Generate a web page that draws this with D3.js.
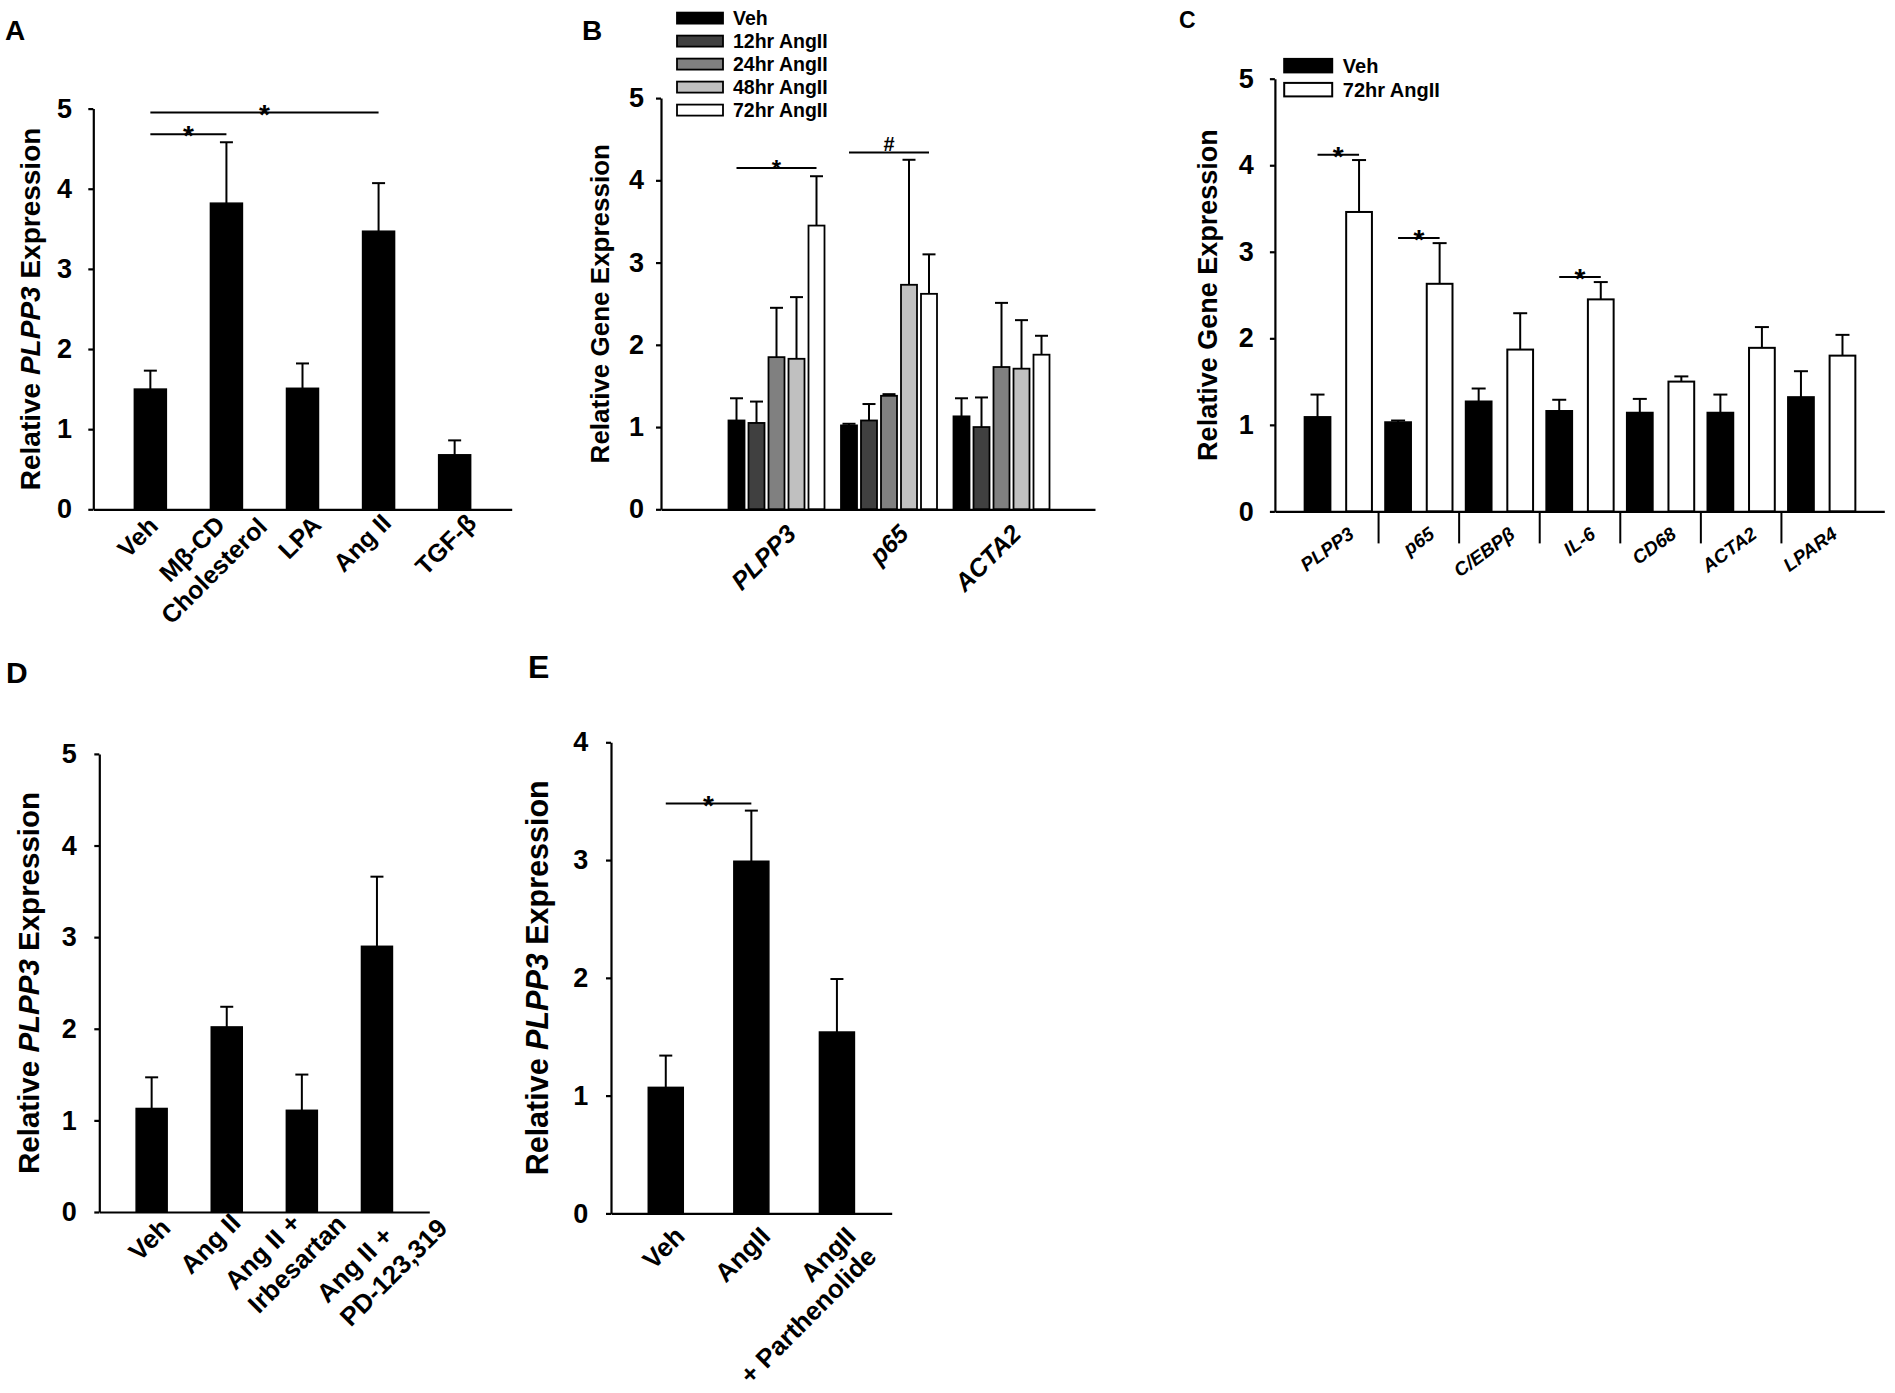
<!DOCTYPE html>
<html>
<head>
<meta charset="utf-8">
<script src="https://cdn.jsdelivr.net/npm/d3@7"></script>
<style>
  body { margin: 0; background: #fff; }
  svg text { font-family: "Liberation Sans", Arial, Helvetica, sans-serif; font-weight: bold; fill: #000; }
</style>
</head>
<body>
<svg id="fig" width="1895" height="1393"></svg>
<script>
// ---------- data ----------
// A
var catsA = ["Veh", "Mβ-CD\nCholesterol", "LPA", "Ang II", "TGF-β"];
var meanA = [1.50, 3.82, 1.51, 3.47, 0.68];
var semA  = [0.23, 0.76, 0.31, 0.60, 0.18];
var sigA  = [{a: 0, b: 1, y: 4.68, t: "*"}, {a: 0, b: 3, y: 4.95, t: "*"}];

// B
var genesB  = ["PLPP3", "p65", "ACTA2"];
var seriesB = ["Veh", "12hr AngII", "24hr AngII", "48hr AngII", "72hr AngII"];
var colorsB = ["#000000", "#404040", "#808080", "#c0c0c0", "#ffffff"];
var valsB = [
  [1.08, 1.02, 1.13],
  [1.05, 1.08, 1.00],
  [1.85, 1.38, 1.73],
  [1.83, 2.73, 1.71],
  [3.45, 2.62, 1.88]
];
var semB = [
  [0.27, 0.02, 0.22],
  [0.26, 0.20, 0.36],
  [0.60, 0.02, 0.78],
  [0.75, 1.52, 0.59],
  [0.60, 0.48, 0.23]
];
var sigB = [{g: 0, a: 0, b: 4, y: 4.15, t: "*"}, {g: 1, a: 0, b: 4, y: 4.34, t: "#"}];

// C
var genesC  = ["PLPP3", "p65", "C/EBPβ", "IL-6", "CD68", "ACTA2", "LPAR4"];
var seriesC = ["Veh", "72hr AngII"];
var vehC    = [1.09, 1.03, 1.27, 1.16, 1.14, 1.14, 1.32];
var vehSemC = [0.26, 0.02, 0.15, 0.13, 0.16, 0.21, 0.30];
var angC    = [3.46, 2.63, 1.87, 2.45, 1.50, 1.89, 1.80];
var angSemC = [0.60, 0.47, 0.42, 0.20, 0.06, 0.24, 0.24];
var sigC    = [{g: 0, y: 4.12, t: "*"}, {g: 1, y: 3.16, t: "*"}, {g: 3, y: 2.71, t: "*"}];

// D
var catsD = ["Veh", "Ang II", "Ang II +\nIrbesartan", "Ang II +\nPD-123,319"];
var meanD = [1.13, 2.02, 1.11, 2.90];
var semD  = [0.34, 0.22, 0.39, 0.76];

// E
var catsE = ["Veh", "AngII", "AngII\n+ Parthenolide"];
var meanE = [1.07, 2.99, 1.54];
var semE  = [0.27, 0.43, 0.45];
var sigE  = [{a: 0, b: 1, y: 3.48, t: "*"}];

// ---------- layout ----------
var LA = {left: 93.3, right: 511.7, top: 108.6, bottom: 509.3};
var LB = {left: 661, right: 1095, top: 98.1, bottom: 509.3, x0: 664, x1: 1114};
var LC = {left: 1274.9, right: 1884.3, top: 78.7, bottom: 511.4, bandL: 1298, bandR: 1862};
var LD = {left: 99.3, right: 429.3, top: 753.9, bottom: 1212};
var LE = {left: 611, right: 891.7, top: 742.3, bottom: 1213.4};

// where the end of each rotated tick label sits, relative to its tick
var labOffA = [[3, 12], [-6, 11], [14, 11], [8, 9], [17, 9]];
var labOffD = [[14, 11], [9, 6], [-6, 6], [11, 19]];

var svg = d3.select("#fig");

function styleAxis(g, fs) {
  g.attr("font-family", null).attr("font-size", fs);
  g.selectAll("path, line").attr("stroke", "#000").attr("stroke-width", 2.2);
  g.selectAll("text").attr("fill", "#000");
}

function yAxis(L, maxV, pad) {
  var y = d3.scaleLinear().domain([0, maxV]).range([L.bottom, L.top]);
  var g = svg.append("g").attr("transform", `translate(${L.left},0)`)
    .call(d3.axisLeft(y).ticks(maxV).tickSize(5).tickSizeOuter(0)
      .tickPadding(pad).tickFormat(d3.format("d")));
  styleAxis(g, 27);
  return y;
}

function xAxisLine(L) {
  var xl = d3.scaleLinear().range([L.left, L.right]);
  var g = svg.append("g").attr("transform", `translate(0,${L.bottom})`)
    .call(d3.axisBottom(xl).tickValues([]).tickSizeOuter(0));
  styleAxis(g, 10);
}

function yTitle(L, x, size, gene) {
  var t = svg.append("text")
    .attr("transform", `translate(${x},${(L.top + L.bottom) / 2}) rotate(-90)`)
    .attr("text-anchor", "middle").attr("dy", "0.35em")
    .attr("font-size", size);
  if (gene) {
    t.append("tspan").text("Relative ");
    t.append("tspan").attr("font-style", "italic").text(gene);
    t.append("tspan").text(" Expression");
  } else {
    t.text("Relative Gene Expression");
  }
}

// rotated tick labels; multi-line labels split on "\n"
function xLabels(items, L, o) {
  items.forEach(function(it, k) {
    var off = o.offs ? o.offs[k] : [o.dx, o.dy];
    var g = svg.append("g")
      .attr("transform", `translate(${it.x + off[0]},${L.bottom + off[1]}) rotate(${-o.angle})`);
    var ts = it.text.split("\n").map(function(s, i) {
      return g.append("text").attr("y", i * o.lh).attr("dy", "0.35em")
        .attr("font-size", o.size)
        .attr("font-style", o.italic ? "italic" : null)
        .attr("text-anchor", "end").text(s);
    });
    var w0 = ts[0].node().getComputedTextLength();
    ts.forEach(function(t, i) {
      if (i === 0 || o.align === "right") return;
      if (o.align === "left") t.attr("text-anchor", "start").attr("x", -w0);
      else t.attr("text-anchor", "middle").attr("x", -w0 / 2);
    });
  });
}

function errBar(x, y, m, s, cap) {
  svg.append("line").attr("x1", x).attr("x2", x).attr("y1", y(m)).attr("y2", y(m + s))
    .attr("stroke", "#000").attr("stroke-width", 2);
  svg.append("line").attr("x1", x - cap).attr("x2", x + cap).attr("y1", y(m + s)).attr("y2", y(m + s))
    .attr("stroke", "#000").attr("stroke-width", 2);
}

function sigBar(x1, x2, yPix, t, size, base) {
  svg.append("line").attr("x1", x1).attr("x2", x2).attr("y1", yPix).attr("y2", yPix)
    .attr("stroke", "#000").attr("stroke-width", 2);
  svg.append("text").attr("x", (x1 + x2) / 2).attr("y", yPix + base)
    .attr("text-anchor", "middle").attr("font-size", size).text(t);
}

function letter(t, x, y, size) {
  svg.append("text").attr("x", x).attr("y", y).attr("font-size", size).text(t);
}

// simple single-series panel (A, D, E)
function simplePanel(L, cats, mean, sem, maxV, pad, barW, sig, lab) {
  var y = yAxis(L, maxV, pad);
  var x = d3.scalePoint().domain(cats).range([L.left, L.right]).padding(lab.pad);
  svg.append("g").selectAll("rect").data(cats).join("rect")
    .attr("x", d => x(d) - barW / 2).attr("width", barW)
    .attr("y", (d, i) => y(mean[i])).attr("height", (d, i) => y(0) - y(mean[i]))
    .attr("fill", "#000").attr("stroke", "#000").attr("stroke-width", 1.5);
  cats.forEach(function(c, i) { errBar(x(c), y, mean[i], sem[i], 6.5); });
  xAxisLine(L);
  (sig || []).forEach(function(s) {
    sigBar(x(cats[s.a]), x(cats[s.b]), y(s.y), s.t, 28, 11);
  });
  xLabels(cats.map(c => ({text: c, x: x(c)})), L, lab);
  return y;
}

// ---------- A ----------
letter("A", 5, 40, 28);
simplePanel(LA, catsA, meanA, semA, 5, 16.3, 32, sigA,
  {pad: 0.75, angle: 45, size: 25, lh: 31, align: "center", offs: labOffA});
yTitle(LA, 30, 28, "PLPP3");

// ---------- B ----------
letter("B", 582, 40, 28);
(function() {
  var y = yAxis(LB, 5, 12);
  var x0 = d3.scalePoint().domain(genesB).range([LB.x0, LB.x1]).padding(1);
  var x1 = d3.scaleBand().domain(seriesB).range([-48, 48]).paddingInner(0.2);
  seriesB.forEach(function(s, si) {
    svg.append("g").selectAll("rect").data(genesB).join("rect")
      .attr("x", d => x0(d) + x1(s)).attr("width", x1.bandwidth())
      .attr("y", (d, gi) => y(valsB[si][gi]))
      .attr("height", (d, gi) => y(0) - y(valsB[si][gi]))
      .attr("fill", colorsB[si]).attr("stroke", "#000").attr("stroke-width", 1.8);
    genesB.forEach(function(g, gi) {
      errBar(x0(g) + x1(s) + x1.bandwidth() / 2, y, valsB[si][gi], semB[si][gi], 6.5);
    });
  });
  xAxisLine(LB);
  sigB.forEach(function(d) {
    var g = genesB[d.g];
    var xa = x0(g) + x1(seriesB[d.a]) + x1.bandwidth() / 2;
    var xb = x0(g) + x1(seriesB[d.b]) + x1.bandwidth() / 2;
    if (d.t === "#") sigBar(xa, xb, y(d.y), d.t, 20, -1);
    else sigBar(xa, xb, y(d.y), d.t, 24, 9);
  });
  xLabels(genesB.map(g => ({text: g, x: x0(g)})), LB,
    {angle: 45, size: 25, lh: 28, align: "right", dx: 15, dy: 20, italic: true});
  yTitle(LB, 600, 26, null);
  // legend
  var lg = svg.append("g").attr("transform", "translate(677,12.6)");
  seriesB.forEach(function(s, i) {
    lg.append("rect").attr("x", 0).attr("y", i * 23).attr("width", 46).attr("height", 11)
      .attr("fill", colorsB[i]).attr("stroke", "#000").attr("stroke-width", 1.8);
    lg.append("text").attr("x", 56).attr("y", i * 23 + 5.5).attr("dy", "0.35em")
      .attr("font-size", 19.5).text(s);
  });
})();

// ---------- C ----------
letter("C", 1179, 27.5, 23);
(function() {
  var y = yAxis(LC, 5, 16);
  var x0 = d3.scaleBand().domain(genesC).range([LC.bandL, LC.bandR]);
  var x1 = d3.scaleBand().domain(seriesC).range([0, x0.bandwidth()])
    .paddingInner(0.38).paddingOuter(0.16);
  var sets = [[vehC, vehSemC, "#000"], [angC, angSemC, "#fff"]];
  sets.forEach(function(st, si) {
    svg.append("g").selectAll("rect").data(genesC).join("rect")
      .attr("x", d => x0(d) + x1(seriesC[si])).attr("width", x1.bandwidth())
      .attr("y", (d, gi) => y(st[0][gi]))
      .attr("height", (d, gi) => y(0) - y(st[0][gi]))
      .attr("fill", st[2]).attr("stroke", "#000").attr("stroke-width", 2);
    genesC.forEach(function(g, gi) {
      errBar(x0(g) + x1(seriesC[si]) + x1.bandwidth() / 2, y, st[0][gi], st[1][gi], 7);
    });
  });
  xAxisLine(LC);
  // group separators
  svg.append("g").selectAll("line").data(genesC.slice(1)).join("line")
    .attr("x1", d => x0(d)).attr("x2", d => x0(d))
    .attr("y1", LC.bottom).attr("y2", LC.bottom + 32)
    .attr("stroke", "#000").attr("stroke-width", 2);
  sigC.forEach(function(d) {
    var g = genesC[d.g];
    sigBar(x0(g) + x1(seriesC[0]) + x1.bandwidth() / 2,
           x0(g) + x1(seriesC[1]) + x1.bandwidth() / 2, y(d.y), d.t, 28, 11);
  });
  xLabels(genesC.map(g => ({text: g, x: x0(g) + x0.bandwidth() / 2})), LC,
    {angle: 36, size: 19, lh: 22, align: "right", dx: 13, dy: 20, italic: true});
  yTitle(LC, 1208, 27, null);
  var lg = svg.append("g").attr("transform", "translate(1284.2,58.9)");
  seriesC.forEach(function(s, i) {
    lg.append("rect").attr("x", 0).attr("y", i * 24).attr("width", 48).attr("height", 13.5)
      .attr("fill", sets[i][2]).attr("stroke", "#000").attr("stroke-width", 2);
    lg.append("text").attr("x", 58.6).attr("y", i * 24 + 6.75).attr("dy", "0.35em")
      .attr("font-size", 20).text(s);
  });
})();

// ---------- D ----------
letter("D", 6, 683, 30);
simplePanel(LD, catsD, meanD, semD, 5, 17.6, 31, null,
  {pad: 0.697, angle: 45, size: 26, lh: 33, align: "left", offs: labOffD});
yTitle(LD, 29, 29.5, "PLPP3");

// ---------- E ----------
letter("E", 528, 678, 32);
simplePanel(LE, catsE, meanE, semE, 4, 17.7, 35, sigE,
  {pad: 0.64, angle: 45, size: 26, lh: 29, align: "right", dx: 14, dy: 18});
yTitle(LE, 537, 30.5, "PLPP3");
</script>
</body>
</html>
